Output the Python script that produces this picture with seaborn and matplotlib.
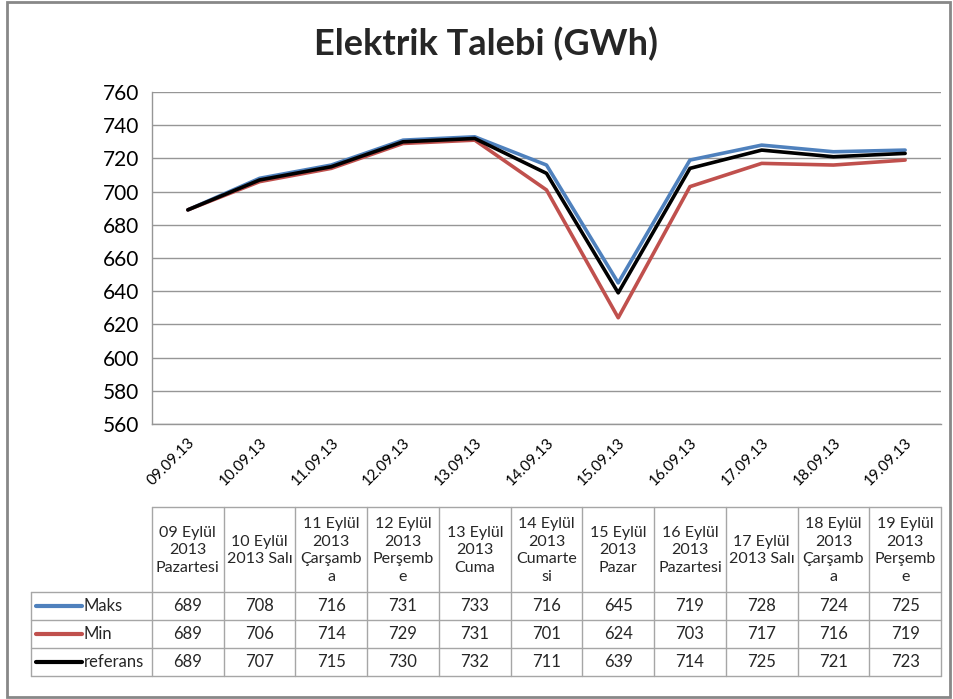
import numpy as np
import pandas as pd
import matplotlib
matplotlib.use("Agg")
import matplotlib.pyplot as plt
import seaborn as sns

# veriler
tarihler = ['09.09.13', '10.09.13', '11.09.13', '12.09.13', '13.09.13', '14.09.13',
            '15.09.13', '16.09.13', '17.09.13', '18.09.13', '19.09.13']
gun_etiketleri = ['09 Eylül\n2013\nPazartesi', '10 Eylül\n2013 Salı', '11 Eylül\n2013\nÇarşamb\na',
                  '12 Eylül\n2013\nPerşemb\ne', '13 Eylül\n2013\nCuma', '14 Eylül\n2013\nCumarte\nsi',
                  '15 Eylül\n2013\nPazar', '16 Eylül\n2013\nPazartesi', '17 Eylül\n2013 Salı',
                  '18 Eylül\n2013\nÇarşamb\na', '19 Eylül\n2013\nPerşemb\ne']
maks = [689, 708, 716, 731, 733, 716, 645, 719, 728, 724, 725]
min_ = [689, 706, 714, 729, 731, 701, 624, 703, 717, 716, 719]
referans = [689, 707, 715, 730, 732, 711, 639, 714, 725, 721, 723]
seriler = ['Maks', 'Min', 'referans']
renkler = ['#4F81BD', '#C0504D', '#000000']

df = pd.DataFrame({'gun': list(range(len(tarihler))) * 3,
                   'deger': maks + min_ + referans,
                   'seri': [s for s in seriler for _ in tarihler]})

sns.set_theme(style="white")
plt.rcParams['font.family'] = ['Lato', 'DejaVu Sans']

W, H = 954, 699
fig = plt.figure(figsize=(W / 100, H / 100), dpi=100)

def px_rect(x0, y0, x1, y1):
    return [x0 / W, 1 - y1 / H, (x1 - x0) / W, (y1 - y0) / H]

ax = fig.add_axes(px_rect(152, 92, 941, 424))
sns.lineplot(data=df, x='gun', y='deger', hue='seri', palette=renkler,
             linewidth=2.6, legend=False, ax=ax, sort=False)
ax.set_xlim(-0.5, len(tarihler) - 0.5)
ax.set_ylim(560, 760)
ax.set_yticks(np.arange(560, 761, 20))
ax.yaxis.grid(True, color='#969696', linewidth=1)
ax.set_axisbelow(True)
ax.set_xticks(range(len(tarihler)))
ax.set_xticklabels(tarihler, rotation=45, ha='right', rotation_mode='anchor', fontsize=11)
ax.tick_params(axis='both', length=0, colors='black')
ax.tick_params(axis='y', labelsize=15, pad=9)
ax.tick_params(axis='x', pad=8)
ax.set_xlabel('')
ax.set_ylabel('')
for s in ['top', 'right']:
    ax.spines[s].set_visible(False)
for s in ['left', 'bottom']:
    ax.spines[s].set_color('#969696')
    ax.spines[s].set_linewidth(1)

fig.text(486 / W, 1 - 44 / H, 'Elektrik Talebi (GWh)', ha='center', va='center',
         fontsize=26, fontweight='bold')

# tablo
col_w = 789 / len(tarihler)
sol = -0.5 - (152 - 31) / col_w
tax = fig.add_axes(px_rect(31, 507, 941, 676))
tax.set_xlim(sol, len(tarihler) - 0.5)
tax.set_ylim(676, 507)
tax.axis('off')
kenar = '#a6a6a6'
y_ust, y_bas, satir_h = 507, 592, 28
n = len(tarihler)
tax.plot([-0.5, n - 0.5], [y_ust, y_ust], color=kenar, lw=1, clip_on=False)
for i in range(n + 1):
    tax.plot([i - 0.5, i - 0.5], [y_ust, y_bas + 3 * satir_h], color=kenar, lw=1, clip_on=False)
tax.plot([sol, sol], [y_bas, y_bas + 3 * satir_h], color=kenar, lw=1, clip_on=False)
for r in range(4):
    yy = y_bas + r * satir_h
    tax.plot([sol, n - 0.5], [yy, yy], color=kenar, lw=1, clip_on=False)
for i, lbl in enumerate(gun_etiketleri):
    tax.text(i, (y_ust + y_bas) / 2 + 1, lbl, ha='center', va='center', fontsize=11.5,
             linespacing=1.32)
for r, (ad, vals, c) in enumerate(zip(seriler, [maks, min_, referans], renkler)):
    yc = y_bas + (r + 0.5) * satir_h
    x0 = sol + 5 / col_w
    x1 = sol + 51 / col_w
    tax.plot([x0, x1], [yc, yc], color=c, lw=3, solid_capstyle='round', clip_on=False)
    tax.text(sol + 53 / col_w, yc, ad, ha='left', va='center', fontsize=12)
    for i, v in enumerate(vals):
        tax.text(i, yc, str(v), ha='center', va='center', fontsize=12)

# dış çerçeve
fig.patches.append(plt.Rectangle((7 / W, 2 / H), 943 / W, 695 / H, transform=fig.transFigure,
                                 fill=False, edgecolor='#888888', linewidth=2))

fig.savefig('out.png', dpi=100)
